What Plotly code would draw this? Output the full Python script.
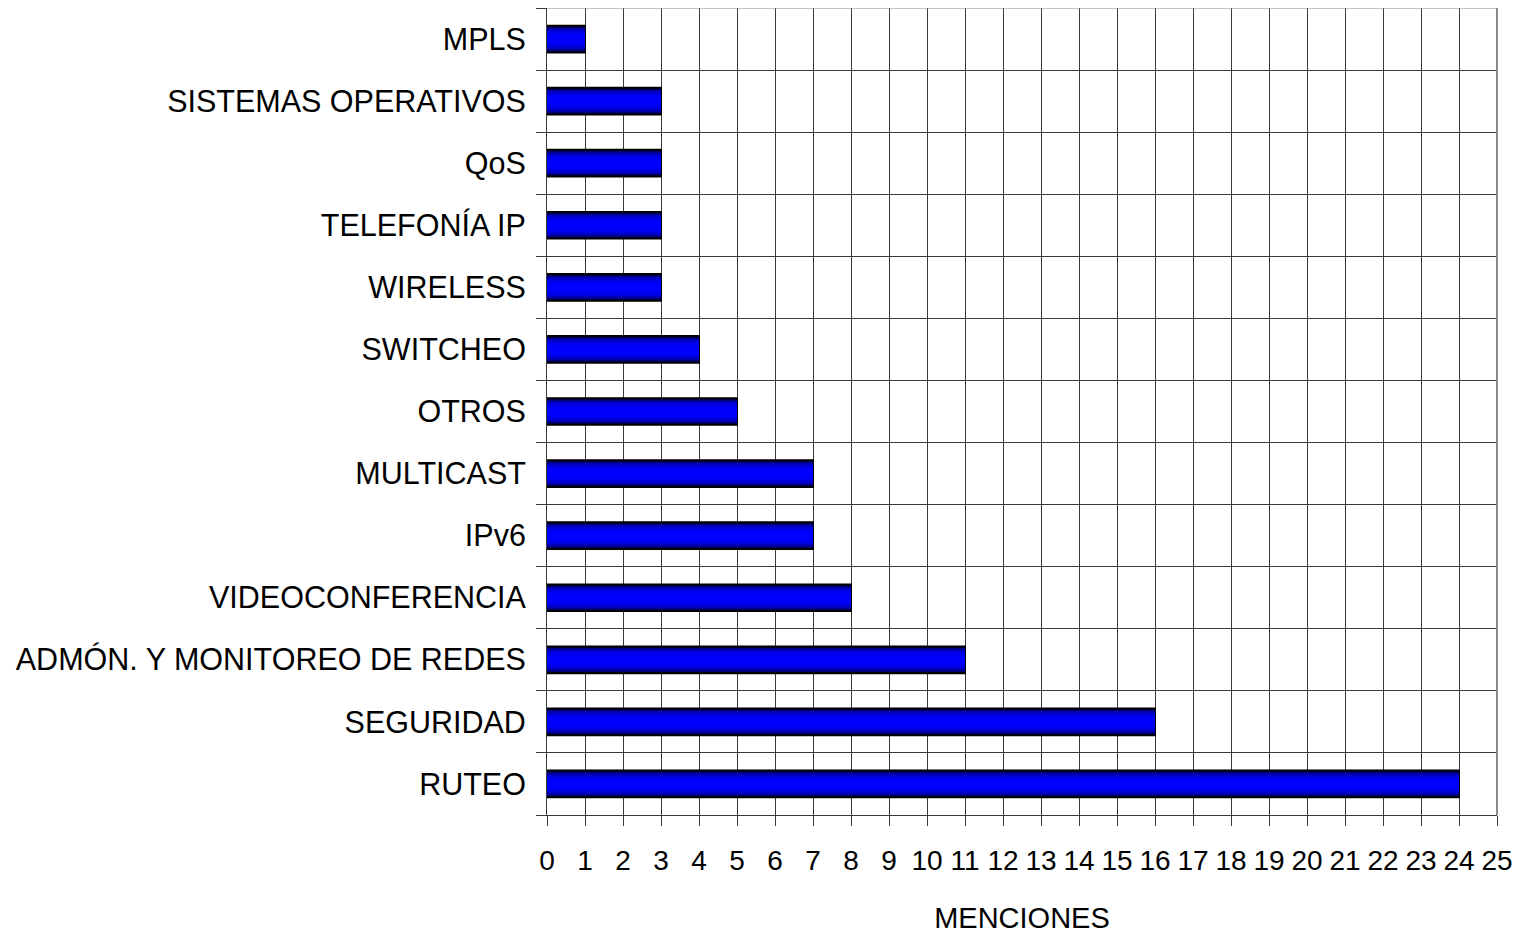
import plotly.graph_objects as go

categories = ["RUTEO", "SEGURIDAD", "ADMÓN. Y MONITOREO DE REDES", "VIDEOCONFERENCIA",
              "IPv6", "MULTICAST", "OTROS", "SWITCHEO", "WIRELESS", "TELEFONÍA IP",
              "QoS", "SISTEMAS OPERATIVOS", "MPLS"]
values = [24, 16, 11, 8, 7, 7, 5, 4, 3, 3, 3, 3, 1]
x_ticks = list(range(0, 26))

FONT = "Liberation Sans, Arial, sans-serif"

fig = go.Figure()

# gradient imitation: stacked overlay bars of decreasing thickness and increasing brightness
layers = [
    (0.43, "#000020", dict(color="#000000", width=2)),
    (0.39, "#000078", None),
    (0.34, "#0000b0", None),
    (0.28, "#0000dc", None),
    (0.20, "#0000f4", None),
    (0.12, "#0000ff", None),
]
for w, c, ln in layers:
    fig.add_trace(go.Bar(
        y=categories, x=values, orientation="h", width=w,
        marker=dict(color=c, line=ln if ln else dict(width=0)),
        hoverinfo="skip" if ln is None else None, showlegend=False,
    ))

# page body has an 8px margin, so the figure is offset by (8, 8)
fig.update_layout(
    barmode="overlay",
    width=1512, height=926,
    margin=dict(l=539, r=23, t=0, b=119),
    paper_bgcolor="white", plot_bgcolor="white",
    font=dict(family=FONT, size=30, color="black"),
    xaxis=dict(
        range=[0, 25], tickvals=x_ticks, ticktext=[str(v) for v in x_ticks],
        automargin=False,
        showgrid=True, gridcolor="#3a3a3a", gridwidth=1,
        ticks="outside", ticklen=10, tickcolor="#3a3a3a",
        showline=True, linecolor="#3a3a3a", mirror=False,
        zeroline=False,
        ticklabelstandoff=10,
        title=dict(text="MENCIONES", font=dict(family=FONT, size=29), standoff=38),
        tickfont=dict(family=FONT, size=28),
    ),
    yaxis=dict(
        type="category", categoryorder="array", categoryarray=categories,
        automargin=False,
        tickson="boundaries", ticks="outside", ticklen=10, tickcolor="#3a3a3a",
        showgrid=True, gridcolor="#3a3a3a", gridwidth=1,
        showline=True, linecolor="#3a3a3a",
        tickfont=dict(family=FONT, size=30.5),
        ticklabelstandoff=14,
        range=[-0.5, 12.5],
    ),
)

# right and top border of plot area
fig.add_shape(type="line", xref="paper", yref="paper", x0=1, x1=1, y0=0, y1=1,
              line=dict(color="#8a8a8a", width=2))
fig.add_shape(type="line", xref="paper", yref="paper", x0=0, x1=1, y0=1, y1=1,
              line=dict(color="#8a8a8a", width=1))

fig.write_html("out.html")
